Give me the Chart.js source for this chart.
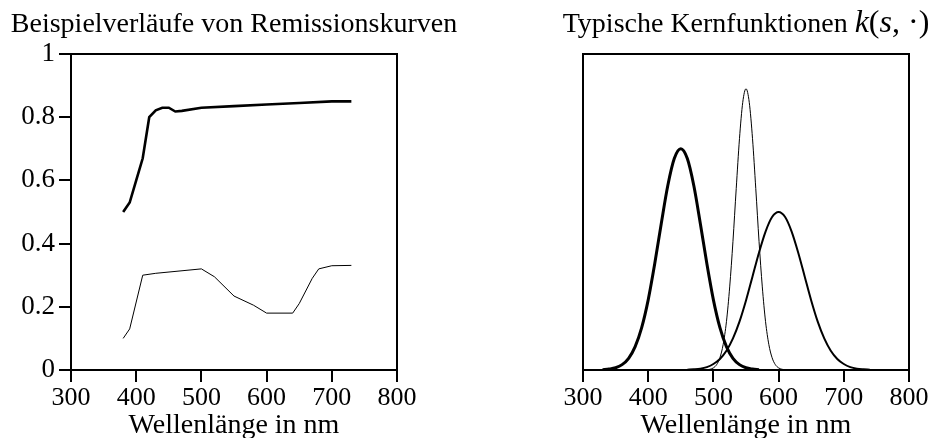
<!DOCTYPE html>
<html>
<head>
<meta charset="utf-8">
<script src="https://cdn.jsdelivr.net/npm/chart.js@4.4.0/dist/chart.umd.min.js"></script>
<style>
  html, body { margin: 0; padding: 0; background: #fff; }
  #wrap { display: flex; width: 934px; height: 438px; }
  canvas { display: block; }
</style>
</head>
<body>
<div id="wrap">
  <canvas id="remChart" width="467" height="438"></canvas>
  <canvas id="kernChart" width="467" height="438"></canvas>
</div>
<script>
// Remissionskurven (left)
const remWl1 = [380, 390, 400, 410, 420, 430, 440, 450, 460, 470, 500, 550, 600, 650, 700, 730];
const rem1 = [0.50, 0.53, 0.60, 0.67, 0.80, 0.822, 0.83, 0.83, 0.818, 0.82, 0.83, 0.835, 0.84, 0.845, 0.85, 0.85];
const remWl2 = [380, 390, 410, 430, 500, 520, 550, 580, 600, 640, 650, 670, 680, 700, 730];
const rem2 = [0.10, 0.13, 0.30, 0.306, 0.32, 0.295, 0.234, 0.205, 0.18, 0.18, 0.21, 0.29, 0.32, 0.33, 0.331];

// Kernfunktionen (right)
const kernWlA = [330, 340, 350, 360, 370, 380, 390, 400, 410, 420, 430, 440, 450, 460, 470, 480, 490, 500, 510, 520, 530, 540, 550, 560, 570];
const kernA = [0.001, 0.003, 0.007, 0.017, 0.037, 0.074, 0.134, 0.222, 0.336, 0.463, 0.583, 0.669, 0.70, 0.669, 0.583, 0.463, 0.336, 0.222, 0.134, 0.074, 0.037, 0.017, 0.007, 0.003, 0.001];
const kernWlB = [480, 485, 490, 495, 500, 505, 510, 515, 520, 525, 530, 535, 540, 545, 550, 555, 560, 565, 570, 575, 580, 585, 590, 595, 600, 605, 610, 615, 620];
const kernB = [0, 0.0002, 0.0008, 0.0024, 0.0067, 0.017, 0.039, 0.081, 0.153, 0.263, 0.407, 0.574, 0.732, 0.847, 0.89, 0.847, 0.732, 0.574, 0.407, 0.263, 0.153, 0.081, 0.039, 0.017, 0.0067, 0.0024, 0.0008, 0.0002, 0];
const kernWlC = [460, 470, 480, 490, 500, 510, 520, 530, 540, 550, 560, 570, 580, 590, 600, 610, 620, 630, 640, 650, 660, 670, 680, 690, 700, 710, 720, 730, 740];
const kernC = [0.001, 0.002, 0.004, 0.009, 0.019, 0.035, 0.061, 0.100, 0.153, 0.220, 0.296, 0.372, 0.438, 0.484, 0.50, 0.484, 0.438, 0.372, 0.296, 0.220, 0.153, 0.100, 0.061, 0.035, 0.019, 0.009, 0.004, 0.002, 0.001];

const yTicks = [0, 0.2, 0.4, 0.6, 0.8, 1];
const xTitle = "Wellenlänge in nm";

const SERIF = '"Liberation Serif", "DejaVu Serif", serif';

function pts(xs, ys) {
  return xs.map((x, i) => ({ x: x, y: ys[i] }));
}

// title drawn in parts so k and s can be italic
const titlePlugin = {
  id: "plotTitle",
  afterDraw(chart, args, opts) {
    const ctx = chart.ctx;
    ctx.save();
    ctx.fillStyle = "#000";
    ctx.textBaseline = "alphabetic";
    let total = 0;
    opts.parts.forEach(p => { ctx.font = p.font; p.w = ctx.measureText(p.text).width; total += p.w; });
    let x = (chart.chartArea.left + chart.chartArea.right) / 2 - total / 2;
    opts.parts.forEach(p => { ctx.font = p.font; ctx.fillText(p.text, x, opts.y); x += p.w; });
    ctx.restore();
  }
};

// box round the plot area
const framePlugin = {
  id: "frame",
  afterDatasetsDraw(chart) {
    const a = chart.chartArea;
    const ctx = chart.ctx;
    ctx.save();
    ctx.strokeStyle = "#000";
    ctx.lineWidth = 2;
    ctx.strokeRect(a.left, a.top, a.right - a.left, a.bottom - a.top);
    ctx.restore();
  }
};

function xScale() {
  return {
    type: "linear",
    min: 300,
    max: 800,
    border: { display: false },
    grid: { drawOnChartArea: false, drawTicks: true, tickLength: 12, lineWidth: 2, color: "#000" },
    ticks: { stepSize: 100, color: "#000", padding: 1, maxRotation: 0, font: { family: SERIF, size: 26 } },
    title: { display: true, text: xTitle, color: "#000", padding: { top: 0, bottom: -4 }, font: { family: SERIF, size: 28 } },
    afterFit(scale) { scale.height = 68; }
  };
}

function createChart(chartid, datasets, yOpts, padding, titleParts) {
  const ctx = document.getElementById(chartid);
  return new Chart(ctx, {
    type: "line",
    data: { datasets: datasets },
    options: {
      responsive: false,
      animation: false,
      layout: { padding: padding },
      plugins: {
        legend: { display: false },
        tooltip: { enabled: false },
        plotTitle: { parts: titleParts, y: 32 }
      },
      elements: { point: { radius: 0 } },
      scales: { x: xScale(), y: yOpts }
    },
    plugins: [titlePlugin, framePlugin]
  });
}

const remChart = createChart(
  "remChart",
  [
    { data: pts(remWl1, rem1), borderColor: "#000", borderWidth: 2.6, tension: 0 },
    { data: pts(remWl2, rem2), borderColor: "#000", borderWidth: 1, tension: 0 }
  ],
  {
    type: "linear",
    min: 0,
    max: 1,
    border: { display: false },
    grid: { drawOnChartArea: false, drawTicks: true, tickLength: 12, lineWidth: 2, color: "#000" },
    afterBuildTicks(scale) { scale.ticks = yTicks.map(v => ({ value: v })); },
    ticks: { color: "#000", padding: 4, font: { family: SERIF, size: 27 }, callback: v => String(v) },
    afterFit(scale) { scale.width = 71; }
  },
  { top: 54, right: 70, left: 0, bottom: 0 },
  [{ text: "Beispielverläufe von Remissionskurven", font: "28px " + SERIF }]
);

const kernChart = createChart(
  "kernChart",
  [
    { data: pts(kernWlA, kernA), borderColor: "#000", borderWidth: 3, cubicInterpolationMode: "monotone" },
    { data: pts(kernWlB, kernB), borderColor: "#000", borderWidth: 1, cubicInterpolationMode: "monotone" },
    { data: pts(kernWlC, kernC), borderColor: "#000", borderWidth: 2, cubicInterpolationMode: "monotone" }
  ],
  { type: "linear", min: 0, max: 1, display: false },
  { top: 54, right: 25, left: 116, bottom: 0 },
  [
    { text: "Typische Kernfunktionen ", font: "28px " + SERIF },
    { text: "k", font: "italic 32px " + SERIF },
    { text: "(", font: "32px " + SERIF },
    { text: "s", font: "italic 32px " + SERIF },
    { text: ", ·)", font: "32px " + SERIF }
  ]
);
</script>
</body>
</html>
